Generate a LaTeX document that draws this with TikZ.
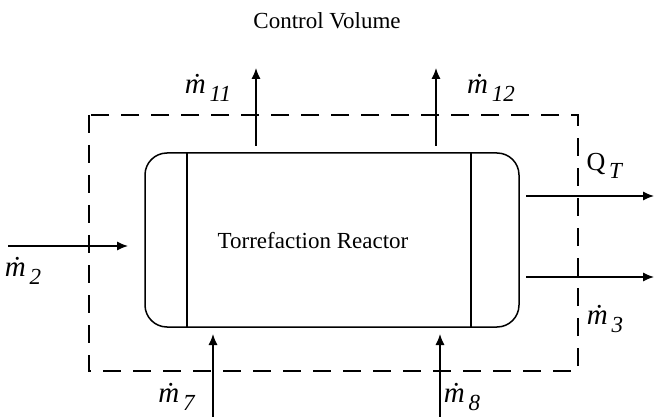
\documentclass[tikz,border=0pt]{standalone}
\usepackage{fontspec}
\setmainfont{Liberation Serif}
\usetikzlibrary{calc,shapes,arrows.meta}

\newcommand{\mflow}[1]{{\fontsize{14.5}{16}\selectfont\textit{\.{m}}}\,\raisebox{-0.7ex}{\textit{#1}}}

\begin{document}
\begin{tikzpicture}[x=0.5pt,y=-0.5pt,line width=0.75pt,
    flow/.style={-{Latex[length=5.5pt,width=4.6pt]}},
    lbl/.style={font=\fontsize{11.5}{14}\selectfont,inner sep=0pt}]
          \useasboundingbox (0,0) rectangle (654,417);
          % control volume
          \draw[dash pattern=on 9pt off 6pt] (89,115) rectangle (578,371);
          \node[lbl] (cv) at (327,21) {Control Volume};
          % reactor
          \node[draw,rounded corners=11pt,minimum width=187pt,minimum height=87pt] (reactor) at (332,240) {};
          \draw (187,153) -- (187,327);
          \draw (471,153) -- (471,327);
          \node[lbl] (rname) at (313,241) {Torrefaction Reactor};
          % arrow ends
          \coordinate (a11) at (256,146);  \coordinate (b11) at (256,68);
          \coordinate (a12) at (436,146);  \coordinate (b12) at (436,68);
          \coordinate (a2) at (8,246);     \coordinate (b2) at (128,246);
          \coordinate (aq) at (526,196);   \coordinate (bq) at (654,196);
          \coordinate (a3) at (526,277);   \coordinate (b3) at (654,277);
          \coordinate (a7) at (213,417);   \coordinate (b7) at (213,334);
          \coordinate (a8) at (440,417);   \coordinate (b8) at (440,334);
          \path[flow] (a11) edge (b11);
          \path[flow] (a12) edge (b12);
          \path[flow] (a2) edge (b2);
          \path[flow] (aq) edge (bq);
          \path[flow] (a3) edge (b3);
          \path[flow] (a7) edge (b7);
          \path[flow] (a8) edge (b8);
          % labels
          \node[lbl] (m11) at (208,88) {\mflow{11}};
          \node[lbl] (m12) at (491,88) {\mflow{12}};
          \node[lbl] (m2) at (23,271) {\mflow{2}};
          \node[lbl] (qt) at (605,166) {{\fontsize{13}{15}\selectfont Q}\,\raisebox{-0.7ex}{\textit{T}}};
          \node[lbl] (m3) at (605,319) {\mflow{3}};
          \node[lbl] (m7) at (177,397) {\mflow{7}};
          \node[lbl] (m8) at (462,397) {\mflow{8}};
        \end{tikzpicture}
\end{document}
